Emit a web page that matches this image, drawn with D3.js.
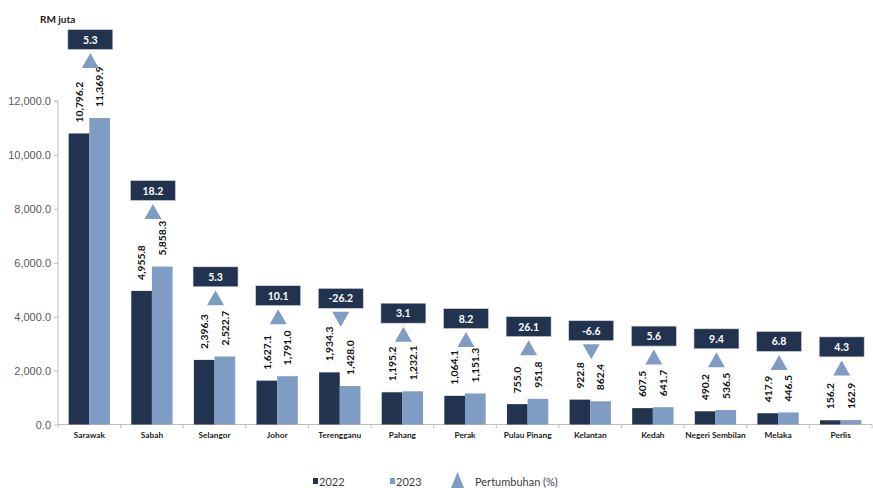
<!DOCTYPE html>
<html><head><meta charset="utf-8">
<script src="https://cdn.jsdelivr.net/npm/d3@7"></script>
<style>
html,body{margin:0;padding:0;background:#fff;}
svg{display:block;font-family:Lato,"Open Sans",sans-serif;}
</style></head>
<body><svg id="c" width="873" height="488"></svg>
<script>
const categories = ["Sarawak","Sabah","Selangor","Johor","Terengganu","Pahang","Perak","Pulau Pinang","Kelantan","Kedah","Negeri Sembilan","Melaka","Perlis"];
const values2022 = [10796.2,4955.8,2396.3,1627.1,1934.3,1195.2,1064.1,755.0,922.8,607.5,490.2,417.9,156.2];
const values2023 = [11369.9,5858.3,2522.7,1791.0,1428.0,1232.1,1151.3,951.8,862.4,641.7,536.5,446.5,162.9];
const growth = [5.3,18.2,5.3,10.1,-26.2,3.1,8.2,26.1,-6.6,5.6,9.4,6.8,4.3];
// level (RM juta) at which each growth marker sits
const markerLevel = [13500,7900,4700,4000,3900,3350,3150,2850,2700,2500,2400,2300,2100];
const yTicks = [0,2000,4000,6000,8000,10000,12000];
const seriesNames = ["2022","2023"];

const C22 = "#223350", C23 = "#7f9cc4";
const svg = d3.select("#c");
const left = 58, right = 872, y0 = 424.5, yTop = 101;

const x = d3.scaleBand().domain(categories).range([left, right]).paddingInner(0.34).paddingOuter(0.17);
const xOuter = d3.scaleBand().domain(categories).range([left, right]);
const xs = d3.scaleBand().domain(seriesNames).range([0, x.bandwidth()]);
const y = d3.scaleLinear().domain([0, 12000]).range([y0, yTop]);

const fmt = d3.format(",.1f");

// y axis
const ya = svg.append("g").attr("transform", `translate(${left},0)`)
  .call(d3.axisLeft(y).tickValues(yTicks).tickFormat(fmt).tickSize(4).tickPadding(3));
ya.select(".domain").attr("stroke", "#bfbfbf").attr("d", `M-4,${y(12000)}H0V${y0}`);
ya.selectAll(".tick line").attr("stroke", "#bfbfbf");
ya.selectAll(".tick text").attr("fill", "#595959").attr("font-size", 11);

// x axis
const xa = svg.append("g").attr("transform", `translate(0,${y0})`);
xa.append("line").attr("x1", left).attr("x2", right).attr("stroke", "#bfbfbf");
const bounds = categories.map(c => xOuter(c)).concat([right]);
xa.selectAll("line.tk").data(bounds).join("line").attr("class","tk")
  .attr("x1", d => d).attr("x2", d => d).attr("y1", 0).attr("y2", 4).attr("stroke", "#bfbfbf");
xa.selectAll("text").data(categories).join("text")
  .attr("x", d => xOuter(d) + xOuter.bandwidth()/2).attr("y", 13)
  .attr("text-anchor", "middle").attr("font-size", 8.3).attr("font-weight", "bold")
  .attr("fill", "#1a1a1a").text(d => d);

// bars
const rows = categories.map((c, i) => ({c, v: [values2022[i], values2023[i]]}));
const colors = [C22, C23];
const g = svg.append("g");
rows.forEach(r => {
  r.v.forEach((v, j) => {
    const bx = x(r.c) + xs(seriesNames[j]);
    g.append("rect").attr("x", bx).attr("y", y(v)).attr("width", xs.bandwidth())
      .attr("height", y0 - y(v)).attr("fill", colors[j]);
    const cx = bx + xs.bandwidth()/2, ty = y(v) - 11;
    g.append("text").attr("transform", `translate(${cx + 3.8},${ty}) rotate(-90)`)
      .attr("font-size", 10.3).attr("font-weight", "bold").attr("fill", "#111")
      .text(fmt(v));
  });
});

// growth markers and boxes
const mg = svg.append("g");
categories.forEach((c, i) => {
  const cx = xOuter(c) + xOuter.bandwidth()/2 + 1;
  const my = y(markerLevel[i]);
  const w = 17, h = 15;
  const up = growth[i] >= 0;
  const pts = up ? [[cx - w/2, my + h/2],[cx + w/2, my + h/2],[cx, my - h/2]]
                 : [[cx - w/2, my - h/2],[cx + w/2, my - h/2],[cx, my + h/2]];
  mg.append("path").attr("d", d3.line()(pts) + "Z").attr("fill", C23);
  const bw = 45, bh = 20, bt = my - 31;
  mg.append("rect").attr("x", cx - bw/2).attr("y", bt).attr("width", bw).attr("height", bh)
    .attr("fill", C22).attr("stroke", "#d9d9d9").attr("stroke-width", 0.6);
  mg.append("text").attr("x", cx).attr("y", bt + bh/2 + 4).attr("text-anchor", "middle")
    .attr("font-size", 10.5).attr("font-weight", "bold").attr("fill", "#fff").text(growth[i].toFixed(1));
});

// unit label
svg.append("text").attr("x", 40).attr("y", 23).attr("font-size", 10).attr("font-weight", "bold")
  .attr("fill", "#1a1a1a").text("RM juta");

// legend
const lg = svg.append("g").attr("font-size", 11).attr("fill", "#404040");
[[313, C22, "2022"], [390, C23, "2023"]].forEach(([lx, col, t]) => {
  lg.append("rect").attr("x", lx).attr("y", 478).attr("width", 5).attr("height", 6).attr("fill", col);
  lg.append("text").attr("x", lx + 6).attr("y", 485.5).attr("fill", "#404040").text(t);
});
lg.append("path").attr("d", d3.line()([[451,488],[464,488],[457.5,472]]) + "Z").attr("fill", C23);
lg.append("text").attr("x", 475).attr("y", 485.5).attr("fill", "#404040").text("Pertumbuhan (%)");
</script></body></html>
